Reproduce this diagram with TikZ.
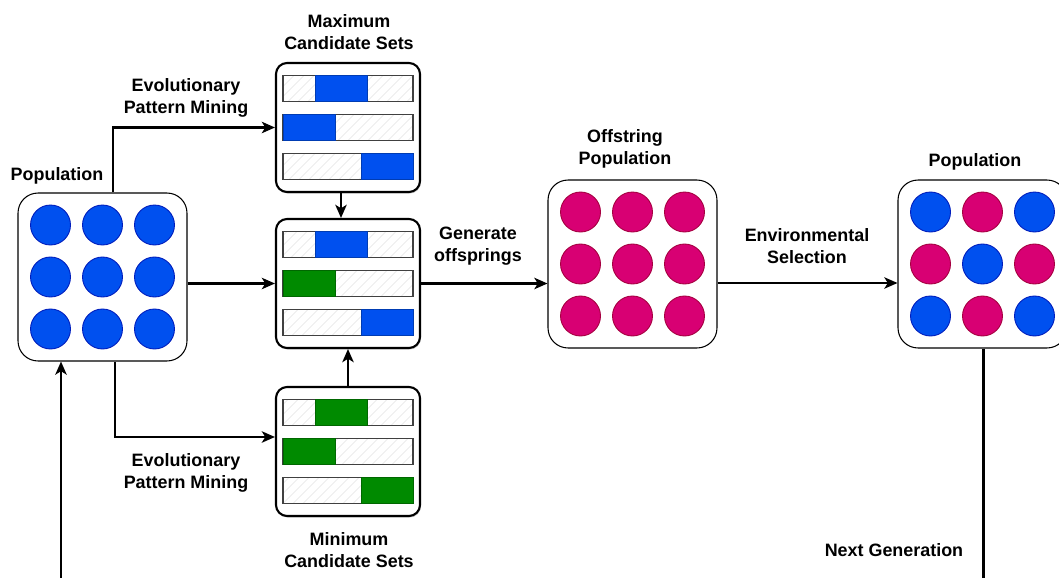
\documentclass[tikz,border=0pt]{standalone}
\usepackage{fontspec}
\setmainfont{Liberation Sans}
\usetikzlibrary{arrows.meta,patterns.meta,shadows,positioning}

\definecolor{dotblue}{HTML}{0050EF}
\definecolor{dotblueline}{HTML}{001DBC}
\definecolor{dotpink}{HTML}{D80073}
\definecolor{dotpinkline}{HTML}{A50040}
\definecolor{setgreen}{HTML}{008A00}
\definecolor{setgreenline}{HTML}{005700}

\begin{document}
\begin{tikzpicture}[x=0.02cm,y=-0.02cm,>={Stealth[length=7.5pt,width=6.5pt,inset=2pt]},
  line width=1.25pt,font=\fontsize{10.2}{12.5}\selectfont\bfseries]
  \tikzset{
    popbox/.style={draw,line width=0.6pt,rounded corners=0.4cm,
      minimum width=3.38cm,minimum height=3.36cm},
    setbox/.style={draw,fill=white,line width=1.2pt,rounded corners=0.22cm,
      minimum width=2.88cm,minimum height=2.58cm,
      drop shadow={shadow xshift=0.5pt,shadow yshift=-0.9pt,opacity=0.35}},
    dot/.style={circle,minimum size=0.8cm,inner sep=0pt,line width=0.5pt},
    bluedot/.style={dot,fill=dotblue,draw=dotblueline},
    pinkdot/.style={dot,fill=dotpink,draw=dotpinkline},
    barframe/.style={draw=black!75,line width=0.6pt,
      pattern={Lines[angle=45,distance=4pt,line width=0.3pt]},pattern color=black!15},
    lbl/.style={align=center,inner sep=0pt}
  }
  \useasboundingbox (0,0) rectangle (1059,578);

  % populations and the candidate sets
  \node[popbox] (pop)       at (102.5,277) {};
  \node[popbox] (offspring) at (632.5,264) {};
  \node[popbox] (newpop)    at (982.5,264) {};
  \node[setbox] (maxset) at (348,127.5) {};
  \node[setbox] (midset) at (348,283.5) {};
  \node[setbox] (minset) at (348,451.5) {};

  \foreach \r in {1,2,3}
    \foreach \c in {1,2,3} {
      \node[bluedot] (pop-\r-\c) at ([xshift={(\c-2)*1.04cm},yshift={(2-\r)*1.04cm}]pop.center) {};
      \node[pinkdot] (off-\r-\c) at ([xshift={(\c-2)*1.04cm},yshift={(2-\r)*1.04cm}]offspring.center) {};
    }
  \foreach \r/\c/\kind in {1/1/bluedot,1/2/pinkdot,1/3/bluedot,
                           2/1/pinkdot,2/2/bluedot,2/3/pinkdot,
                           3/1/bluedot,3/2/pinkdot,3/3/bluedot}
    \node[\kind] (new-\r-\c) at ([xshift={(\c-2)*1.04cm},yshift={(2-\r)*1.04cm}]newpop.center) {};

  % bars: box centre / row / start / end / colour
  \foreach \yc/\row/\from/\to/\col in {
      127.5/-1/0.25/0.65/dotblue, 127.5/0/0/0.4/dotblue, 127.5/1/0.6/1/dotblue,
      283.5/-1/0.25/0.65/dotblue, 283.5/0/0/0.4/setgreen, 283.5/1/0.6/1/dotblue,
      451.5/-1/0.25/0.65/setgreen, 451.5/0/0/0.4/setgreen, 451.5/1/0.6/1/setgreen} {
    \draw[barframe] (283,{\yc+(\row)*39-13}) rectangle (413,{\yc+(\row)*39+13});
    \draw[fill=\col,draw=\col!75!black,line width=0.5pt]
      ({283+\from*130},{\yc+(\row)*39-13}) rectangle ({283+\to*130},{\yc+(\row)*39+13});
  }

  % texts
  \node[lbl] (poplbl)    at (57,175.5)  {Population};
  \node[lbl] (maxlbl)    at (349,32.5)  {Maximum\\Candidate Sets};
  \node[lbl] (minlbl)    at (349,550.5) {Minimum\\Candidate Sets};
  \node[lbl] (uplbl)     at (186,98)    {Evolutionary\\Pattern Mining};
  \node[lbl] (downlbl)   at (186,473)   {Evolutionary\\Pattern Mining};
  \node[lbl] (genlbl)    at (478,246)   {Generate\\offsprings};
  \node[lbl] (offlbl)    at (625,149)   {Offstring\\Population};
  \node[lbl] (envlbl)    at (807,246)   {Environmental\\Selection};
  \node[lbl] (newlbl)    at (975,161.5) {Population};
  \node[lbl] (nextlbl)   at (894,550)   {Next Generation};

  % connectors
  \coordinate (loopR) at (983.5,585);
  \coordinate (loopL) at (61,585);
  \draw[->] ([xshift=0.21cm]pop.north) |- (maxset.west);
  \draw[->] (pop.east |- midset.west) -- (midset.west);
  \draw[->] ([xshift=0.25cm]pop.south) |- ([yshift=0.29cm]minset.west);
  \draw[->] ([xshift=-0.14cm]maxset.south) -- ([xshift=-0.14cm]midset.north);
  \draw[->] (minset.north) -- (midset.south);
  \draw[->] (midset.east) -- (offspring.west |- midset.east);
  \draw[->] ([yshift=-0.38cm]offspring.east) -- ([yshift=-0.38cm]newpop.west);
  \draw (newpop.south -| loopR) -- (loopR);
  \draw[->] (loopL) -- (loopL |- pop.south);
\end{tikzpicture}
\end{document}
